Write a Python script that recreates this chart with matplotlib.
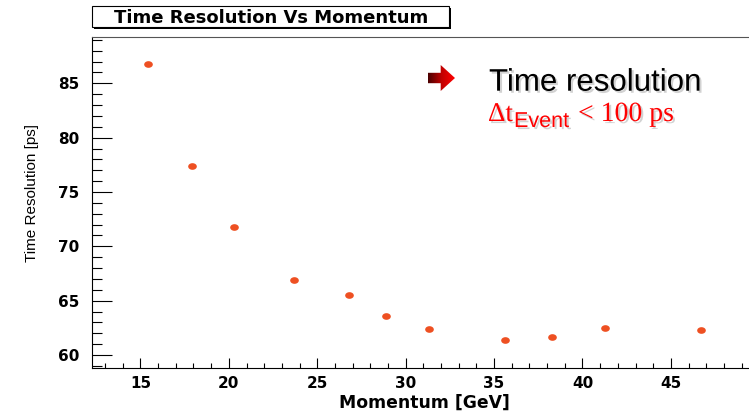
import numpy as np
import matplotlib
matplotlib.use('Agg')
import matplotlib.pyplot as plt
import matplotlib.patheffects as pe
from matplotlib.patches import Rectangle, Polygon
from matplotlib.markers import MarkerStyle
from matplotlib.transforms import Affine2D
from matplotlib.ticker import FixedLocator, MultipleLocator

# values
momentum = [15.42, 17.90, 20.31, 23.70, 26.79, 28.90, 31.30, 35.60, 38.29, 41.29, 46.69]
resolution = [86.77, 77.42, 71.75, 66.90, 65.49, 63.56, 62.36, 61.35, 61.68, 62.48, 62.33]
x_ticks = [15, 20, 25, 30, 35, 40, 45]
y_ticks = [60, 65, 70, 75, 80, 85]

W, H = 749, 412


def fx(px):
    return px / W


def fy(py):
    return 1 - py / H


plt.rcParams['font.weight'] = 'bold'

fig = plt.figure(figsize=(W / 100, H / 100), dpi=100)
ax = fig.add_axes([fx(92), fy(367.7), fx(759.3) - fx(92), fy(37) - fy(367.7)])

dot = MarkerStyle('o', transform=Affine2D().scale(1.3, 1.0))
ax.plot(momentum, resolution, ls='none', marker=dot, ms=4.8,
        mfc='#ee5022', mec='none')

ax.set_xlim(12.26, 50)
ax.set_ylim(58.83, 89.26)

ax.xaxis.set_major_locator(FixedLocator(x_ticks))
ax.xaxis.set_minor_locator(MultipleLocator(1))
ax.yaxis.set_major_locator(FixedLocator(y_ticks))
ax.yaxis.set_minor_locator(MultipleLocator(1))

ax.tick_params(axis='x', which='major', direction='in', length=7.2, width=0.8,
               pad=6, labelsize=11, colors='black')
ax.tick_params(axis='x', which='minor', direction='in', length=3.6, width=0.8)
ax.tick_params(axis='y', which='major', direction='in', length=14.5, width=0.8,
               pad=9.1, labelsize=11)
ax.tick_params(axis='y', which='minor', direction='in', length=7, width=0.8)

for s in ['left', 'bottom']:
    ax.spines[s].set_color('black')
    ax.spines[s].set_linewidth(0.8)
ax.spines['top'].set_color('#555555')
ax.spines['top'].set_linewidth(0.8)
ax.spines['right'].set_visible(False)

# axis titles
fig.text(fx(424), fy(407.5), 'Momentum [GeV]', ha='center', va='baseline',
         fontsize=12.4, weight='bold')
fig.text(fx(32.5), fy(193), 'Time Resolution [ps]', ha='center', va='center',
         rotation=90, fontsize=11, weight='normal', family='Liberation Sans')

# title box with shadow
fig.add_artist(Rectangle((fx(94), fy(29)), fx(451) - fx(94), fy(8) - fy(29),
                         transform=fig.transFigure, facecolor='black', edgecolor='none'))
fig.add_artist(Rectangle((fx(92), fy(27)), fx(449) - fx(92), fy(6) - fy(27),
                         transform=fig.transFigure, facecolor='white',
                         edgecolor='black', lw=0.8))
fig.text(fx(271.5), fy(22.7), 'Time Resolution Vs Momentum', ha='center',
         va='baseline', fontsize=13, weight='bold')

# slide annotation
shadow = [pe.withSimplePatchShadow(offset=(1.5, -1.5), shadow_rgbFace='0.5', alpha=0.35)]
fig.text(fx(489), fy(90.7), 'Time resolution', ha='left', va='baseline',
         fontsize=22.5, weight='normal', family='Liberation Sans',
         path_effects=shadow)
fig.text(fx(488), fy(121), '\u0394t', ha='left', va='baseline', fontsize=19.5,
         weight='normal', family='Liberation Serif', color='red', path_effects=shadow)
fig.text(fx(514), fy(127), 'Event', ha='left', va='baseline', fontsize=15.5,
         weight='normal', family='Liberation Sans', color='red', path_effects=shadow)
fig.text(fx(578), fy(121), '< 100 ps', ha='left', va='baseline', fontsize=20,
         weight='normal', family='Liberation Serif', color='red', path_effects=shadow)

# gradient arrow
aax = fig.add_axes([fx(428), fy(91), fx(455) - fx(428), fy(65) - fy(91)])
aax.set_xlim(0, 1)
aax.set_ylim(0, 1)
aax.axis('off')
grad = np.linspace(0, 1, 64).reshape(1, -1)
cmap = matplotlib.colors.LinearSegmentedColormap.from_list('arr', ['#4a0000', '#c00000', '#ff0000'])
im = aax.imshow(grad, extent=(0, 1, 0, 1), aspect='auto', cmap=cmap)
shape = Polygon([(0, 0.3), (0.47, 0.3), (0.47, 0), (1, 0.5), (0.47, 1), (0.47, 0.7), (0, 0.7)],
                closed=True, transform=aax.transData, facecolor='none', edgecolor='none')
aax.add_patch(shape)
im.set_clip_path(shape)

fig.savefig('out.png', dpi=100)
